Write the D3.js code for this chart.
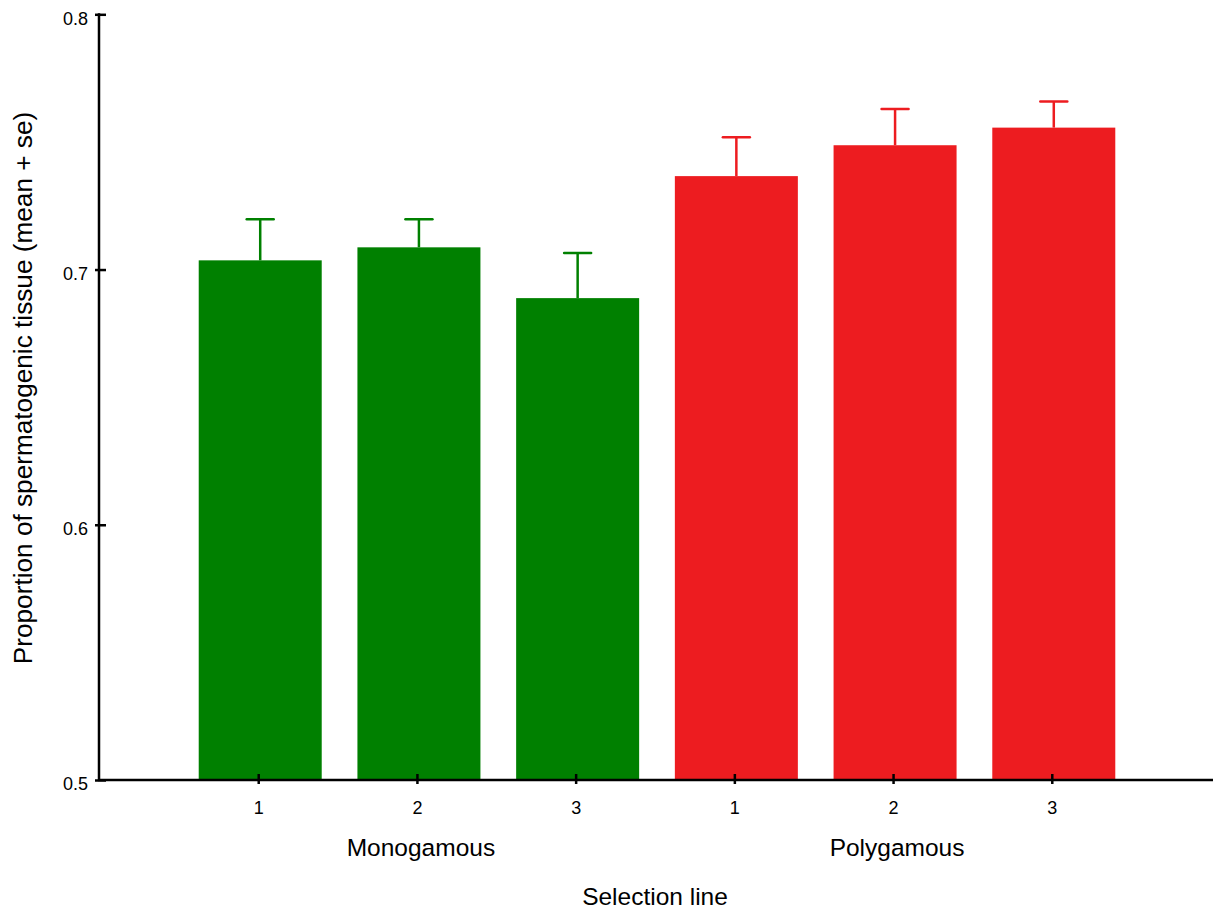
<!DOCTYPE html>
<meta charset="utf-8">
<style>
body { margin: 0; background: #fff; }
text { font-family: "Liberation Sans", Arial, sans-serif; fill: #000; }
.axis path, .axis line { stroke: #000; stroke-width: 2.5; }
</style>
<svg width="1213" height="916"></svg>
<script src="https://d3js.org/d3.v7.min.js"></script>
<script>

// data
var groups = ["Monogamous", "Polygamous"];
var lines = ["1", "2", "3", "1", "2", "3"];
var groupOf = [0, 0, 0, 1, 1, 1];
var means = [0.7036, 0.7087, 0.6888, 0.7366, 0.7487, 0.7556];
var upper = [0.7197, 0.7197, 0.7065, 0.7518, 0.7629, 0.7658];
var yTicks = [0.5, 0.6, 0.7, 0.8];
var colors = ["#008000", "#ed1c20"];

var svg = d3.select("svg");

var x = d3.scaleLinear().domain([0, 7]).range([101.5, 1212.5]),
    y = d3.scaleLinear().domain([0.5, 0.8]).range([780, 14.3]);

var barW = 123, capW = 27;

var data = means.map(function(m, i) {
  return {pos: i + 1, line: lines[i], group: groupOf[i], mean: m, up: upper[i]};
});

// error bars first so the bar covers the lower part
var err = svg.append("g");
err.selectAll("line.stem")
  .data(data)
  .enter().append("line")
    .attr("class", "stem")
    .attr("x1", function(d) { return x(d.pos); })
    .attr("x2", function(d) { return x(d.pos); })
    .attr("y1", function(d) { return y(d.mean); })
    .attr("y2", function(d) { return y(d.up); })
    .attr("stroke", function(d) { return colors[d.group]; })
    .attr("stroke-width", 2.5);
err.selectAll("line.cap")
  .data(data)
  .enter().append("line")
    .attr("class", "cap")
    .attr("x1", function(d) { return x(d.pos) - capW / 2; })
    .attr("x2", function(d) { return x(d.pos) + capW / 2; })
    .attr("y1", function(d) { return y(d.up); })
    .attr("y2", function(d) { return y(d.up); })
    .attr("stroke", function(d) { return colors[d.group]; })
    .attr("stroke-width", 2.5)
    .attr("stroke-linecap", "round");

svg.selectAll(".bar")
  .data(data)
  .enter().append("rect")
    .attr("class", "bar")
    .attr("x", function(d) { return x(d.pos) - barW / 2; })
    .attr("y", function(d) { return y(d.mean); })
    .attr("width", barW)
    .attr("height", function(d) { return y(0.5) - y(d.mean); })
    .attr("fill", function(d) { return colors[d.group]; });

// y axis
var gy = svg.append("g")
    .attr("class", "axis")
    .attr("transform", "translate(99,0)")
    .call(d3.axisLeft(y).tickValues(yTicks).tickFormat(d3.format(".1f")).tickSize(-7).tickSizeOuter(0));
gy.selectAll(".tick line").attr("x1", -4);
gy.selectAll(".tick text")
    .attr("x", -11)
    .attr("dy", "0.55em")
    .style("font-size", "18px")
    .style("font-family", "'Liberation Sans', Arial, sans-serif");
gy.select(".domain").attr("d", "M0," + y(0.5) + "V" + (y(0.8) - 1));

// x axis
var gx = svg.append("g")
    .attr("class", "axis")
    .attr("transform", "translate(0,780)")
    .call(d3.axisBottom(x).tickValues(d3.range(1, 7)).tickFormat(function(d) { return lines[d - 1]; }).tickSize(4).tickSizeOuter(0));
gx.selectAll(".tick line").attr("y1", -6).attr("transform", "translate(-2,0)");
gx.selectAll(".tick text")
    .attr("y", 34)
    .attr("dy", 0)
    .attr("dx", -2)
    .style("font-size", "18px")
    .style("font-family", "'Liberation Sans', Arial, sans-serif");
gx.select(".domain").attr("d", "M98,0H1213");

// group labels
svg.selectAll(".glabel")
  .data(groups)
  .enter().append("text")
    .attr("class", "glabel")
    .attr("x", function(d, i) { return x(2 + i * 3) + 2; })
    .attr("y", 856)
    .attr("text-anchor", "middle")
    .style("font-size", "24.5px")
    .text(function(d) { return d; });

svg.append("text")
    .attr("x", 655)
    .attr("y", 905)
    .attr("text-anchor", "middle")
    .style("font-size", "24.5px")
    .text("Selection line");

svg.append("text")
    .attr("transform", "translate(32,388) rotate(-90)")
    .attr("text-anchor", "middle")
    .style("font-size", "26.2px")
    .text("Proportion of spermatogenic tissue (mean + se)");

</script>
